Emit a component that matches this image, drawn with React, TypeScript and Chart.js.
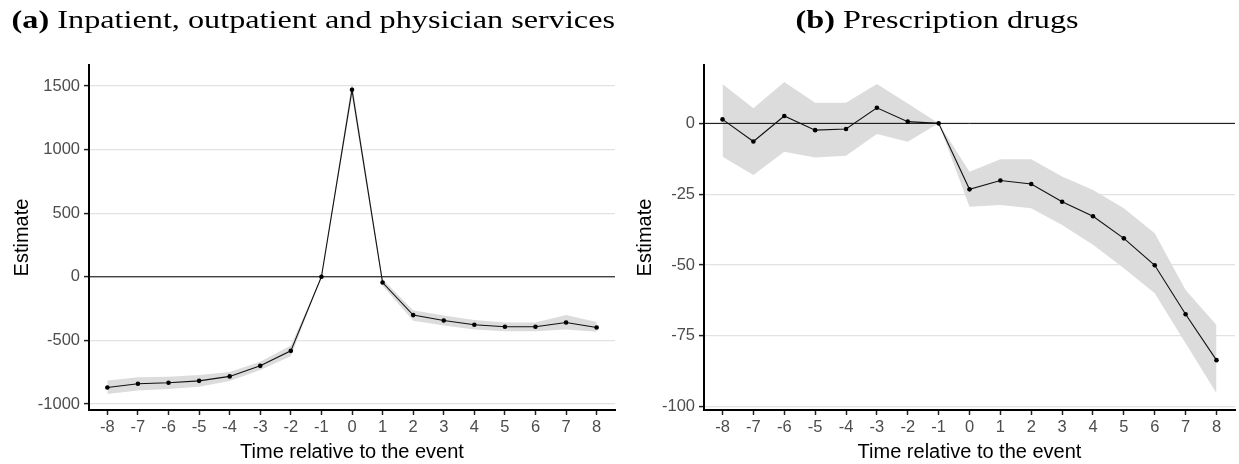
import React, { useEffect, useRef } from 'react';
import { Chart, registerables } from 'chart.js';

Chart.register(...registerables);

const eventTime = [-8, -7, -6, -5, -4, -3, -2, -1, 0, 1, 2, 3, 4, 5, 6, 7, 8];

// (a) Inpatient, outpatient and physician services
const estimateA = [-870, -841, -833, -818, -783, -700, -582, 0, 1470, -45, -301, -343, -377, -393, -393, -359, -398];
const lowerA = [-922, -893, -882, -865, -820, -732, -625, 0, 1415, -70, -345, -382, -415, -428, -428, -415, -432];
const upperA = [-815, -790, -785, -772, -748, -668, -540, 0, 1530, -20, -262, -305, -340, -360, -360, -300, -355];
const yTicksA = [-1000, -500, 0, 500, 1000, 1500];

// (b) Prescription drugs
const estimateB = [1.4, -6.4, 2.6, -2.4, -2.0, 5.5, 0.6, 0, -23.3, -20.2, -21.4, -27.7, -32.8, -40.6, -50.1, -67.4, -83.6];
const lowerB = [-11.8, -18.2, -10.0, -12.1, -11.4, -3.8, -6.5, 0, -29.4, -28.8, -30.0, -35.9, -42.9, -51.2, -60.0, -77.6, -95.3];
const upperB = [13.9, 5.3, 14.6, 7.3, 7.3, 13.9, 7.0, 0, -17.1, -12.7, -12.7, -18.8, -23.5, -30.0, -38.8, -58.8, -71.2];
const yTicksB = [-100, -75, -50, -25, 0];

const SANS = "'Liberation Sans', Arial, sans-serif";
const SERIF = "'Liberation Serif', 'Times New Roman', serif";
const HEIGHT = 464;

// Black horizontal reference line at zero, drawn above the confidence band
const zeroLine = {
  id: 'zeroLine',
  beforeDatasetDraw(chart: any, args: any) {
    if (args.index !== 2) return;
    const { ctx, chartArea, scales } = chart;
    const y = scales.y.getPixelForValue(0);
    ctx.save();
    ctx.strokeStyle = '#000';
    ctx.lineWidth = 1;
    ctx.beginPath();
    ctx.moveTo(chartArea.left, y);
    ctx.lineTo(chartArea.right, y);
    ctx.stroke();
    ctx.restore();
  },
};

type PanelProps = {
  left: number;
  width: number;
  label: string;
  caption: string;
  titleCenter: number;
  estimate: number[];
  lower: number[];
  upper: number[];
  yTicks: number[];
  yMin: number;
  yMax: number;
  axisWidth: number;
  yTitlePad: number;
  rightPad: number;
};

function Panel(p: PanelProps) {
  const ref = useRef<HTMLCanvasElement>(null);

  useEffect(() => {
    const pts = (arr: number[]) => eventTime.map((t, i) => ({ x: t, y: arr[i] }));
    const chart = new Chart(ref.current as HTMLCanvasElement, {
      type: 'line',
      data: {
        datasets: [
          {
            data: pts(p.upper),
            borderWidth: 0,
            borderColor: 'rgba(0,0,0,0)',
            pointRadius: 0,
            fill: false,
            order: 2,
          },
          {
            data: pts(p.lower),
            borderWidth: 0,
            borderColor: 'rgba(0,0,0,0)',
            backgroundColor: '#dcdcdc',
            pointRadius: 0,
            fill: '-1',
            order: 1,
          },
          {
            data: pts(p.estimate),
            borderColor: '#111',
            borderWidth: 1.1,
            pointRadius: 2.3,
            pointBackgroundColor: '#000',
            pointBorderWidth: 0,
            fill: false,
            order: 0,
          },
        ],
      },
      options: {
        responsive: false,
        animation: false,
        layout: { padding: { top: 65, right: p.rightPad, left: 0, bottom: 0 } },
        plugins: {
          legend: { display: false },
          tooltip: { enabled: false },
          title: { display: false },
        },
        scales: {
          x: {
            type: 'linear',
            min: -8.6,
            max: 8.6,
            afterBuildTicks: (s: any) => {
              s.ticks = eventTime.map((v) => ({ value: v }));
            },
            afterFit: (s: any) => {
              s.height = 54;
            },
            grid: {
              drawOnChartArea: false,
              drawTicks: true,
              tickLength: 5,
              tickColor: '#222',
              tickWidth: 1.5,
            },
            border: { display: true, color: '#000', width: 2 },
            ticks: {
              color: '#4d4d4d',
              font: { family: SANS, size: 16.5 },
              padding: 3,
              maxRotation: 0,
              autoSkip: false,
              callback: (v: any) => String(v),
            },
            title: {
              display: true,
              text: 'Time relative to the event',
              color: '#000',
              font: { family: SANS, size: 20 },
              padding: { top: 0, bottom: 0 },
            },
          },
          y: {
            type: 'linear',
            min: p.yMin,
            max: p.yMax,
            afterBuildTicks: (s: any) => {
              s.ticks = p.yTicks.map((v) => ({ value: v }));
            },
            afterFit: (s: any) => {
              s.width = p.axisWidth;
            },
            grid: {
              color: '#e2e2e2',
              lineWidth: 1.2,
              tickColor: '#222',
              tickLength: 5,
              tickWidth: 1.5,
            },
            border: { display: true, color: '#000', width: 2 },
            ticks: {
              color: '#4d4d4d',
              font: { family: SANS, size: 16.5 },
              padding: 4,
              callback: (v: any) => String(v),
            },
            title: {
              display: true,
              text: 'Estimate',
              color: '#000',
              font: { family: SANS, size: 20 },
              padding: { top: p.yTitlePad, bottom: 0 },
            },
          },
        },
      },
      plugins: [zeroLine],
    } as any);
    return () => chart.destroy();
  }, []);

  return (
    <div style={{ position: 'absolute', left: p.left, top: 0, width: p.width, height: HEIGHT }}>
      <canvas
        ref={ref}
        width={p.width}
        height={HEIGHT}
        style={{ display: 'block', width: p.width, height: HEIGHT }}
      />
      <div
        style={{
          position: 'absolute',
          top: 5,
          left: p.titleCenter - 400,
          width: 800,
          textAlign: 'center',
          fontFamily: SERIF,
          fontSize: 26,
          lineHeight: '30px',
          color: '#000',
          whiteSpace: 'nowrap',
        }}
      >
        <span style={{ display: 'inline-block', transform: 'scaleX(1.24)' }}>
          <b>{p.label}</b> {p.caption}
        </span>
      </div>
    </div>
  );
}

export default function App() {
  return (
    <div
      style={{
        position: 'absolute',
        left: 0,
        top: 0,
        width: 1239,
        height: HEIGHT,
        background: '#fff',
        overflow: 'hidden',
      }}
    >
      <Panel
        left={0}
        width={620}
        label="(a)"
        caption="Inpatient, outpatient and physician services"
        titleCenter={313}
        estimate={estimateA}
        lower={lowerA}
        upper={upperA}
        yTicks={yTicksA}
        yMin={-1047}
        yMax={1665}
        axisWidth={89}
        yTitlePad={10.5}
        rightPad={5}
      />
      <Panel
        left={620}
        width={619}
        label="(b)"
        caption="Prescription drugs"
        titleCenter={317.5}
        estimate={estimateB}
        lower={lowerB}
        upper={upperB}
        yTicks={yTicksB}
        yMin={-101.2}
        yMax={20.6}
        axisWidth={84}
        yTitlePad={13.5}
        rightPad={0}
      />
    </div>
  );
}
